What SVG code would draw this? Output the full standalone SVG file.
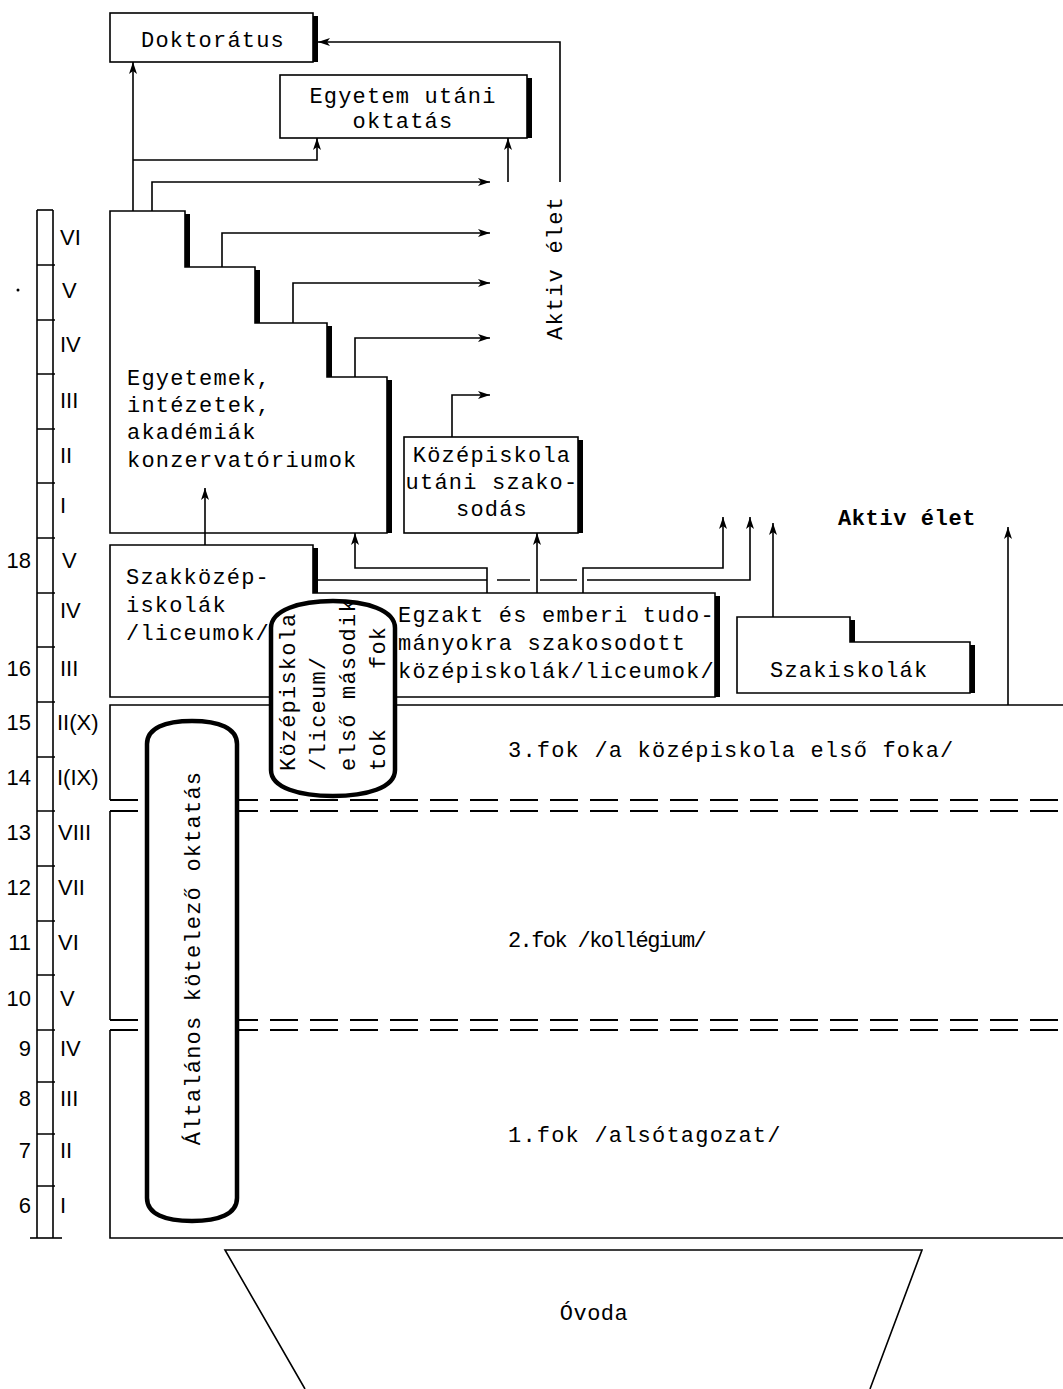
<svg xmlns="http://www.w3.org/2000/svg" width="1063" height="1389" viewBox="0 0 1063 1389">
<style>
.t{font-family:"Liberation Mono","DejaVu Sans Mono",monospace;font-size:22px;letter-spacing:1.2px;fill:#000}
.s{font-family:"Liberation Sans","DejaVu Sans",sans-serif;font-size:22px;fill:#000}
.b{fill:#fff;stroke:#000;stroke-width:1.6}
.sh{fill:none;stroke:#000;stroke-width:5}
.ln{fill:none;stroke:#000;stroke-width:1.6}
.pill{fill:#fff;stroke:#000;stroke-width:4.5}
.dash{fill:none;stroke:#000;stroke-width:1.8;stroke-dasharray:28 12}
</style>
<defs>
<marker id="ah" markerUnits="userSpaceOnUse" markerWidth="14" markerHeight="10" refX="12" refY="5" orient="auto">
<path d="M0,1 L12,5 L0,9 L3,5 Z" fill="#000"/>
</marker>
</defs>
<rect width="1063" height="1389" fill="#fff"/>

<g id="scale">
<line class="ln" x1="37" y1="210" x2="37" y2="1238"/>
<line class="ln" x1="53" y1="210" x2="53" y2="1238"/>
<line class="ln" x1="37" y1="210" x2="53" y2="210"/>
<line class="ln" x1="30" y1="1238" x2="62" y2="1238"/>
<path class="ln" d="M37,265H55M37,320H55M37,374H55M37,429H55M37,483H55M37,538H55M37,593H55M37,647H55M37,702H55M37,757H55M37,811H55M37,866H55M37,921H55M37,975H55M37,1030H55M37,1082H55M37,1134H55M37,1186H55"/>
<circle cx="18" cy="290" r="1.5" fill="#000"/>
<g class="s">
<text x="60" y="245">VI</text>
<text x="62" y="298">V</text>
<text x="60" y="352">IV</text>
<text x="60" y="408">III</text>
<text x="60" y="463">II</text>
<text x="60" y="513">I</text>
<text x="62" y="568">V</text>
<text x="60" y="618">IV</text>
<text x="60" y="676">III</text>
<text x="57" y="730">II(X)</text>
<text x="57" y="785">I(IX)</text>
<text x="58" y="840">VIII</text>
<text x="58" y="895">VII</text>
<text x="58" y="950">VI</text>
<text x="60" y="1006">V</text>
<text x="60" y="1056">IV</text>
<text x="60" y="1106">III</text>
<text x="60" y="1158">II</text>
<text x="60" y="1213">I</text>
</g>
<g class="s" text-anchor="end">
<text x="31" y="568">18</text>
<text x="31" y="676">16</text>
<text x="31" y="730">15</text>
<text x="31" y="785">14</text>
<text x="31" y="840">13</text>
<text x="31" y="895">12</text>
<text x="31" y="950">11</text>
<text x="31" y="1006">10</text>
<text x="31" y="1056">9</text>
<text x="31" y="1106">8</text>
<text x="31" y="1158">7</text>
<text x="31" y="1213">6</text>
</g>
</g>

<g id="fok3">
<path class="ln" d="M110,800 V705 H1063"/>
<line class="dash" x1="110" y1="800" x2="1063" y2="800"/>
<text class="t" x="508" y="757">3.fok /a középiskola első foka/</text>
</g>
<g id="fok2">
<line class="ln" x1="110" y1="811" x2="110" y2="1020"/>
<line class="dash" x1="110" y1="811" x2="1063" y2="811"/>
<line class="dash" x1="110" y1="1020" x2="1063" y2="1020"/>
<text class="t" x="508" y="947" textLength="200" lengthAdjust="spacing">2.fok /kollégium/</text>
</g>
<g id="fok1">
<path class="ln" d="M110,1030 V1238 H1063"/>
<line class="dash" x1="110" y1="1030" x2="1063" y2="1030"/>
<text class="t" x="508" y="1142">1.fok /alsótagozat/</text>
</g>

<g id="ovoda">
<path class="ln" d="M305,1389 L225,1250 H922 L870,1389"/>
<text class="t" x="594" y="1320" text-anchor="middle" style="letter-spacing:0.5px">Óvoda</text>
</g>

<g id="doktoratus">
<rect class="b" x="110" y="13" width="203" height="49"/>
<line class="sh" x1="315.5" y1="16" x2="315.5" y2="62"/>
<text class="t" x="213" y="47" text-anchor="middle">Doktorátus</text>
</g>

<g id="egyetem-utani">
<rect class="b" x="280" y="75" width="247" height="63"/>
<line class="sh" x1="529.5" y1="78" x2="529.5" y2="138"/>
<text class="t" x="403" y="103" text-anchor="middle">Egyetem utáni</text>
<text class="t" x="403" y="128" text-anchor="middle">oktatás</text>
</g>

<g id="egyetemek">
<path class="b" d="M110,211 H185 V267 H255 V323 H327 V377 H387 V533 H110 Z"/>
<path class="sh" d="M187.5,214 V267 M257.5,270 V323 M329.5,326 V377 M389.5,380 V533"/>
<text class="t" x="127" y="385">Egyetemek,</text>
<text class="t" x="127" y="412">intézetek,</text>
<text class="t" x="127" y="439">akadémiák</text>
<text class="t" x="127" y="467">konzervatóriumok</text>
</g>

<g id="kozepiskola-utani">
<rect class="b" x="404" y="437" width="174" height="96"/>
<line class="sh" x1="580.5" y1="440" x2="580.5" y2="533"/>
<text class="t" x="492" y="462" text-anchor="middle">Középiskola</text>
<text class="t" x="492" y="489" text-anchor="middle">utáni szako-</text>
<text class="t" x="492" y="516" text-anchor="middle">sodás</text>
</g>

<g id="szakkozep">
<path class="b" d="M110,545 H313 V593 H715 V697 H110 Z"/>
<path class="sh" d="M315.5,548 V593 M717.5,596 V697"/>
<text class="t" x="126" y="584">Szakközép-</text>
<text class="t" x="126" y="612">iskolák</text>
<text class="t" x="126" y="640">/liceumok/</text>
<text class="t" x="398" y="622">Egzakt és emberi tudo-</text>
<text class="t" x="398" y="650">mányokra szakosodott</text>
<text class="t" x="398" y="678">középiskolák/liceumok/</text>
</g>

<g id="szakiskolak">
<path class="b" d="M737,617 H850 V642 H970 V693 H737 Z"/>
<path class="sh" d="M852.5,620 V642 M972.5,645 V693"/>
<text class="t" x="770" y="677">Szakiskolák</text>
</g>

<g id="connectors">
<path class="ln" d="M133,211 V62" marker-end="url(#ah)"/>
<path class="ln" d="M133,160 H317 V138" marker-end="url(#ah)"/>
<path class="ln" d="M152,211 V182 H490" marker-end="url(#ah)"/>
<path class="ln" d="M222,267 V233 H490" marker-end="url(#ah)"/>
<path class="ln" d="M293,323 V283 H490" marker-end="url(#ah)"/>
<path class="ln" d="M355,377 V338 H490" marker-end="url(#ah)"/>
<path class="ln" d="M452,437 V395 H490" marker-end="url(#ah)"/>
<path class="ln" d="M508,182 V138" marker-end="url(#ah)"/>
<path class="ln" d="M560,182 V42 H318" marker-end="url(#ah)"/>
<path class="ln" d="M205,545 V488" marker-end="url(#ah)"/>
<path class="ln" d="M487,593 V568 H355 V533" marker-end="url(#ah)"/>
<path class="ln" d="M583,593 V568 H723 V517" marker-end="url(#ah)"/>
<path class="ln" d="M318,580 H487 M497,580 H530 M540,580 H577"/>
<path class="ln" d="M587,580 H750 V517" marker-end="url(#ah)"/>
<path class="ln" d="M537,593 V533" marker-end="url(#ah)"/>
<path class="ln" d="M773,617 V523" marker-end="url(#ah)"/>
<path class="ln" d="M1008,705 V527" marker-end="url(#ah)"/>
</g>

<g id="aktiv1">
<text class="t" transform="translate(562,340) rotate(-90)">Aktiv élet</text>
</g>
<g id="aktiv2">
<text class="t" x="838" y="525" style="font-weight:bold;letter-spacing:0.6px">Aktiv élet</text>
</g>

<g id="altalanos">
<path class="pill" d="M147,744 C147,728 165,721 192,721 C219,721 237,728 237,744 V1198 C237,1214 219,1221 192,1221 C165,1221 147,1214 147,1198 Z"/>
<text class="t" transform="translate(200,958) rotate(-90)" text-anchor="middle">Általános kötelező oktatás</text>
</g>

<g id="kozepiskola-pill">
<path class="pill" d="M271,628 C271,610 300,601 333,601 C366,601 395,610 395,628 V770 C395,788 366,796 333,796 C300,796 271,788 271,770 Z"/>
<text class="t" transform="translate(295,771) rotate(-90)">Középiskola</text>
<text class="t" transform="translate(325,771) rotate(-90)">/liceum/</text>
<text class="t" transform="translate(355,771) rotate(-90)">első második</text>
<text class="t" transform="translate(385,771) rotate(-90)">tok</text>
<text class="t" transform="translate(385,669) rotate(-90)">fok</text>
</g>
</svg>
